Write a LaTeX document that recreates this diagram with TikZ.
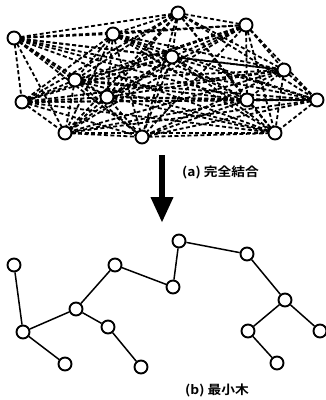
\documentclass[tikz,border=0pt]{standalone}
\usepackage{fontspec}
\newfontfamily\cjk{Noto Sans CJK JP Bold}
\usetikzlibrary{arrows.meta}
\tikzset{
  vtx/.style={circle,draw,line width=1.9pt,fill=white,minimum size=13pt,inner sep=0pt},
  mesh/.style={line width=1.8pt,dash pattern=on 4pt off 2.5pt},
  treeedge/.style={line width=1.5pt},
  caption/.style={font=\cjk\fontsize{12.5}{12.5}\selectfont,inner sep=0pt,xscale=1.1,anchor=west},
}
\begin{document}
\begin{tikzpicture}[x=1pt,y=-1pt]
\useasboundingbox (0,0) rectangle (326,400);
% complete graph vertices
\coordinate (p1) at (14,38);
\coordinate (p2) at (178,13);
\coordinate (p3) at (246,25);
\coordinate (p4) at (113,34);
\coordinate (p5) at (172,57);
\coordinate (p6) at (75,80);
\coordinate (p7) at (284,70);
\coordinate (p8) at (22,102);
\coordinate (p9) at (107,97);
\coordinate (p10) at (247,100);
\coordinate (p11) at (317,100);
\coordinate (p12) at (65,133);
\coordinate (p13) at (142,137);
\coordinate (p14) at (275,133);
% every pair joined by a dashed edge
\foreach \i in {1,...,13}{
  \pgfmathtruncatemacro\nxt{\i+1}
  \foreach \j in {\nxt,...,14}{
    \draw[mesh] (p\i) -- (p\j);
  }
}
\foreach \i in {1,...,14}{
  \node[vtx] (q\i) at (p\i) {};
}
% arrow between the two graphs
\coordinate (arrtop) at (162,155);
\coordinate (arrbot) at (162,223);
\draw[line width=6.5pt,-{Triangle[width=21pt,length=26pt]}] (arrtop) -- (arrbot);
\node[caption] (capa) at (182,172) {(a) 完全結合};
% spanning tree
\node[vtx] (a) at (14,265) {};
\node[vtx] (b) at (23,332) {};
\node[vtx] (c) at (65,364) {};
\node[vtx] (d) at (76,309) {};
\node[vtx] (e) at (115,265) {};
\node[vtx] (f) at (108,327) {};
\node[vtx] (g) at (141,367) {};
\node[vtx] (h) at (173,287) {};
\node[vtx] (i) at (179,241) {};
\node[vtx] (j) at (247,254) {};
\node[vtx] (k) at (285,300) {};
\node[vtx] (l) at (248,331) {};
\node[vtx] (m) at (277,363) {};
\node[vtx] (n) at (320,331) {};
\foreach \u/\v in {a/b,b/c,b/d,d/e,d/f,f/g,e/h,h/i,i/j,j/k,k/l,k/n,l/m}
  \draw[treeedge] (\u) -- (\v);
\node[caption] (capb) at (185,390) {(b) 最小木};
\end{tikzpicture}
\end{document}
